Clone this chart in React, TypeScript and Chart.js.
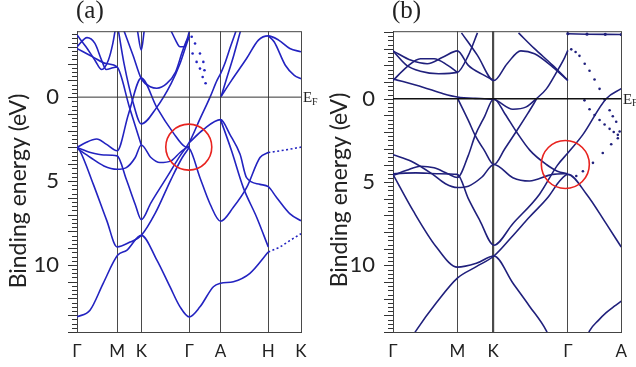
import React, { useEffect, useRef } from 'react';
import { Chart, registerables } from 'chart.js';
Chart.register(...registerables);

type P = [number, number];

// ---------- k-path (fractional distance) and labels ----------
const kPathA = [0, 0.179, 0.287, 0.501, 0.641, 0.854, 1.0];
const kLabelsA = ['Γ', 'M', 'K', 'Γ', 'A', 'H', 'K'];
const kPathB = [0, 0.282, 0.439, 0.766, 1.0];
const kLabelsB = ['Γ', 'M', 'K', 'Γ', 'A'];
const energyTicks = [0, 5, 10];
const energyRangeA = [-3.93, 14.0];
const energyRangeB = [-4.05, 14.0];

// ---------- panel (a) bands: [k, binding energy eV] ----------
const a1: P[] = [[0, 13.1], [0.058, 12.7], [0.117, 11.1], [0.181, 9.43], [0.222, 9.13], [0.287, 8.24], [0.356, 9.7], [0.415, 11.3], [0.46, 12.5], [0.501, 13.1], [0.549, 12.5], [0.609, 11.3], [0.641, 11.1], [0.698, 11.0], [0.772, 10.5], [0.854, 9.23]];
const a1dot: P[] = [[0.854, 9.23], [0.906, 8.93], [0.95, 8.55], [1.0, 8.14]];
const a2: P[] = [[0, 3.0], [0.013, 3.2], [0.073, 5.2], [0.133, 7.36], [0.179, 8.93], [0.237, 8.64], [0.287, 8.24], [0.35, 6.9], [0.42, 4.9], [0.47, 3.6], [0.501, 3.0]];
const a3: P[] = [[0, 3.0], [0.06, 3.3], [0.12, 3.45], [0.179, 3.5], [0.22, 4.9], [0.26, 6.4], [0.287, 7.3], [0.33, 6.3], [0.40, 4.8], [0.46, 3.5], [0.501, 2.7], [0.549, 1.3], [0.594, 0], [0.625, -1.0], [0.641, -1.4], [0.66, -2.0], [0.685, -3.0], [0.71, -3.95]];
const a4: P[] = [[0, 3.0], [0.04, 2.7], [0.088, 2.5], [0.13, 2.8], [0.179, 3.2], [0.23, 1.0], [0.287, -1.13], [0.356, 0.61], [0.43, 2.13], [0.482, 2.95], [0.501, 3.05], [0.549, 4.8], [0.594, 6.37], [0.641, 7.4], [0.698, 6.57], [0.757, 5.4], [0.817, 3.6], [0.854, 3.3]];
const a4dot: P[] = [[0.854, 3.3], [0.93, 3.15], [1.0, 2.98]];
const a5: P[] = [[0, 3.05], [0.06, 3.6], [0.12, 4.1], [0.179, 4.3], [0.22, 4.2], [0.26, 3.6], [0.287, 2.85], [0.33, 3.6], [0.37, 3.9], [0.42, 3.8], [0.46, 3.3], [0.501, 2.9]];
const a6: P[] = [[0, -2.9], [0.07, -2.4], [0.13, -2.0], [0.179, -1.8], [0.234, 0.6], [0.287, 2.85]];
const a7: P[] = [[0.21, -3.95], [0.25, -2.5], [0.287, -1.1], [0.33, -0.6], [0.356, -0.53], [0.40, -0.8], [0.44, -1.5], [0.47, -2.7], [0.49, -3.4], [0.501, -3.6]];
const a8: P[] = [[0.185, -3.95], [0.21, -2.0], [0.25, 0.3], [0.287, 1.6], [0.356, 0.61], [0.42, -0.8], [0.46, -2.0], [0.49, -3.2], [0.501, -3.6]];
const a9: P[] = [[0.42, -3.95], [0.44, -3.4], [0.46, -3.0], [0.48, -3.0], [0.495, -3.6], [0.501, -3.9]];
const a10: P[] = [[0, -3.0], [0.045, -3.55], [0.08, -3.2], [0.11, -2.2], [0.13, -1.65], [0.16, -1.75], [0.179, -1.8]];
const a11: P[] = [[0, -3.7], [0.04, -3.0], [0.08, -2.2], [0.11, -1.65], [0.14, -2.2], [0.16, -3.2], [0.17, -3.95]];
const a12: P[] = [[0.501, 2.72], [0.564, 1.93], [0.641, 1.34], [0.683, 2.23], [0.728, 3.41], [0.757, 4.8], [0.817, 5.2], [0.854, 5.34], [0.891, 5.98], [0.951, 6.96], [1.0, 7.37]];
const a13: P[] = [[0.641, 1.34], [0.69, 3.2], [0.742, 5.38], [0.802, 7.16], [0.854, 8.93]];
const a14: P[] = [[0.641, 0], [0.69, -1.0], [0.757, -2.3], [0.81, -3.4], [0.854, -3.65], [0.9, -3.4], [0.95, -2.9], [1.0, -2.7]];
const a15: P[] = [[0.854, -3.65], [0.88, -3.3], [0.93, -1.9], [0.97, -1.3], [1.0, -1.1]];
const a16: P[] = [[0.645, -0.1], [0.67, -1.2], [0.70, -2.5], [0.73, -3.95]];
const a17: P[] = [[0.27, -3.95], [0.287, -2.8], [0.30, -3.95]];
const aDots1: P[] = [[0.512, -3.6], [0.527, -3.2], [0.549, -2.6], [0.564, -2.1], [0.569, -1.6], [0.574, -0.83]];
const aDots2: P[] = [[0.516, -2.6], [0.534, -2.1], [0.549, -1.7], [0.561, -1.2]];

// ---------- panel (b) bands ----------
const b1: P[] = [[0.07, 14.6], [0.102, 13.9], [0.19, 12.25], [0.282, 10.77], [0.365, 10.08], [0.442, 9.44], [0.52, 8.3], [0.598, 7.1], [0.68, 5.9], [0.73, 4.94], [0.766, 4.54], [0.848, 5.73], [0.934, 7.5], [1.0, 8.9]];
const b2: P[] = [[0, 4.54], [0.088, 6.72], [0.19, 8.9], [0.282, 10.11], [0.365, 9.88], [0.442, 9.44], [0.525, 11.06], [0.598, 12.45], [0.672, 13.93], [0.69, 14.5]];
const b3: P[] = [[0, 3.36], [0.08, 3.75], [0.17, 4.5], [0.23, 5.1], [0.282, 5.33], [0.33, 5.25], [0.39, 4.7], [0.442, 3.95], [0.525, 4.74], [0.598, 4.94], [0.70, 4.54], [0.766, 4.5]];
const b4: P[] = [[0, 4.5], [0.1, 4.45], [0.2, 4.5], [0.282, 4.54], [0.33, 6.0], [0.38, 7.3], [0.442, 8.79], [0.525, 7.5], [0.642, 5.73], [0.72, 4.0], [0.766, 3.26], [0.831, 2.17], [0.934, 0], [1.0, -0.6]];
const b5: P[] = [[0, 4.6], [0.06, 4.3], [0.12, 4.05], [0.18, 4.15], [0.24, 4.5], [0.282, 4.73], [0.33, 3.4], [0.36, 2.2], [0.40, 1.1], [0.442, 0], [0.49, 0.9], [0.54, 1.97], [0.60, 3.1], [0.672, 3.95], [0.72, 4.35], [0.766, 4.5]];
const b6: P[] = [[0, -1.19], [0.131, -0.69], [0.22, -0.3], [0.282, -0.1], [0.36, -0.02], [0.442, 0.05], [0.525, 0.63], [0.584, 0.49], [0.628, 0], [0.672, -0.59], [0.716, -1.58], [0.752, -2.47], [0.766, -2.9]];
const b7: P[] = [[0.282, -0.05], [0.33, 1.3], [0.36, 2.2], [0.40, 3.1], [0.442, 3.95], [0.49, 3.0], [0.54, 1.97], [0.59, 0.9], [0.63, 0]];
const b8: P[] = [[0, -2.87], [0.06, -2.0], [0.12, -1.65], [0.2, -1.5], [0.282, -1.58], [0.33, -2.6], [0.37, -3.95]];
const b9: P[] = [[0, -1.09], [0.06, -1.9], [0.12, -2.4], [0.18, -2.4], [0.24, -2.0], [0.282, -1.58]];
const b10: P[] = [[0, -2.87], [0.08, -2.3], [0.15, -2.1], [0.22, -2.5], [0.282, -2.87], [0.33, -2.0], [0.40, -1.4], [0.442, -1.09]];
const b11: P[] = [[0.30, -3.95], [0.37, -2.6], [0.442, -1.09], [0.50, -2.1], [0.56, -2.87], [0.62, -2.7], [0.70, -1.9], [0.766, -1.09]];
const b12: P[] = [[0.55, -3.95], [0.62, -3.0], [0.70, -2.0], [0.766, -1.09]];
const b13: P[] = [[0.85, 14.3], [0.861, 13.93], [0.9, 13.3], [0.934, 12.84], [0.97, 12.45], [1.0, 12.15]];
const bTop: P[] = [[0.766, -3.9], [0.85, -3.87], [0.93, -3.86], [1.0, -3.85]];
const bDots1: P[] = [[0.781, -2.96], [0.80, -2.8], [0.817, -2.57], [0.84, -2.1], [0.861, -1.68], [0.883, -1.15], [0.905, -0.59], [0.927, 0.05], [0.949, 0.69], [0.963, 1.05], [0.978, 1.38], [0.993, 1.97]];
const bDots2: P[] = [[0.839, 0.1], [0.861, 0.63], [0.883, 0.98], [0.905, 1.28], [0.927, 1.55], [0.949, 1.81], [0.967, 2.0], [0.985, 2.17]];
const bDots3: P[] = [[0.803, 4.64], [0.832, 4.35], [0.876, 3.85], [0.919, 3.26], [0.956, 2.73], [0.985, 2.37]];

type Panel = {
  solid: P[][]; dashed: P[][]; dots: P[][]; dotLines: P[][];
  kPath: number[]; kLabels: string[]; range: number[];
  color: string; lw: number;
  axisW: number; padR: number; padT: number; axisH: number;
  circle: P; circleR: number; label: string; titleX: number; titleY: number;
  efX: number; zeroColor: string; zeroW: number; boldIndex: number;
};

const panelA: Panel = {
  solid: [a1, a2, a3, a4, a5, a6, a7, a8, a9, a10, a11, a12, a13, a14, a15, a16, a17],
  dashed: [a1dot, a4dot], dots: [aDots1, aDots2], dotLines: [],
  kPath: kPathA, kLabels: kLabelsA, range: energyRangeA,
  color: '#2323c0', lw: 1.6,
  axisW: 77, padR: 17, padT: 29, axisH: 35,
  circle: [0.499, 2.98], circleR: 23, label: '(a)', titleX: 19, titleY: 191,
  efX: 303, zeroColor: '#333', zeroW: 1, boldIndex: -1,
};

const panelB: Panel = {
  solid: [b1, b2, b3, b4, b5, b6, b7, b8, b9, b10, b11, b12, b13],
  dashed: [], dots: [bDots1, bDots2, bDots3], dotLines: [bTop],
  kPath: kPathB, kLabels: kLabelsB, range: energyRangeB,
  color: '#20207c', lw: 1.6,
  axisW: 75, padR: 14, padT: 28, axisH: 35,
  circle: [0.755, 3.95], circleR: 24, label: '(b)', titleX: 22, titleY: 190,
  efX: 305, zeroColor: '#111', zeroW: 1.5, boldIndex: 2,
};

const sans = 'Lato, "Open Sans", sans-serif';
const serif = '"Liberation Serif", "DejaVu Serif", serif';

const decor = {
  id: 'decor',
  afterDraw(chart: any, _args: any, o: any) {
    const { ctx, chartArea: ca, scales } = chart;
    const x = scales.x, y = scales.y;
    ctx.save();
    // zero (Fermi) line
    const y0 = y.getPixelForValue(0);
    ctx.strokeStyle = o.zeroColor; ctx.lineWidth = o.zeroW;
    ctx.beginPath(); ctx.moveTo(ca.left, y0); ctx.lineTo(ca.right, y0); ctx.stroke();
    // frame top
    ctx.strokeStyle = '#444'; ctx.lineWidth = 1;
    ctx.beginPath(); ctx.moveTo(ca.left, ca.top + 0.5); ctx.lineTo(ca.right, ca.top + 0.5); ctx.stroke();
    // minor ticks every 0.25 eV
    ctx.strokeStyle = '#333'; ctx.lineWidth = 1;
    for (let v = Math.ceil(y.min * 4) / 4; v <= y.max + 1e-6; v += 0.25) {
      const py = Math.round(y.getPixelForValue(v)) + 0.5;
      const isInt = Math.abs(v - Math.round(v)) < 1e-6;
      const len = isInt ? 9 : 5;
      ctx.beginPath(); ctx.moveTo(ca.left - len, py); ctx.lineTo(ca.left, py); ctx.stroke();
    }
    // red circle
    ctx.strokeStyle = '#e8231f'; ctx.lineWidth = 1.6;
    ctx.beginPath();
    ctx.arc(x.getPixelForValue(o.circle[0]), y.getPixelForValue(o.circle[1]), o.circleR, 0, Math.PI * 2);
    ctx.stroke();
    // E_F label
    ctx.fillStyle = '#222';
    ctx.textBaseline = 'middle'; ctx.textAlign = 'left';
    ctx.font = `15px ${serif}`;
    ctx.fillText('E', o.efX, y0 + 1);
    ctx.font = `10px ${serif}`;
    ctx.fillText('F', o.efX + 9, y0 + 5);
    // panel label
    ctx.font = `25px ${serif}`;
    ctx.textBaseline = 'top';
    ctx.fillText(o.label, ca.left - 1, -1);
    // y title
    ctx.translate(o.titleX, o.titleY);
    ctx.rotate(-Math.PI / 2);
    ctx.textAlign = 'center'; ctx.textBaseline = 'middle';
    ctx.font = `23px ${sans}`;
    ctx.fillText('Binding energy (eV)', 0, 0);
    ctx.restore();
  },
};

function makeConfig(p: Panel): any {
  const mk = (arr: P[]) => arr.map(([k, e]) => ({ x: k, y: e }));
  const datasets: any[] = [];
  p.solid.forEach((b) => datasets.push({ data: mk(b), borderColor: p.color, borderWidth: p.lw, pointRadius: 0, cubicInterpolationMode: 'monotone', fill: false }));
  p.dashed.forEach((b) => datasets.push({ data: mk(b), borderColor: p.color, borderWidth: p.lw, borderDash: [2, 2.5], pointRadius: 0, cubicInterpolationMode: 'monotone', fill: false }));
  p.dotLines.forEach((b) => datasets.push({ data: mk(b), borderColor: p.color, borderWidth: 1.6, pointRadius: 1.6, pointBackgroundColor: p.color, pointBorderWidth: 0, fill: false }));
  p.dots.forEach((b) => datasets.push({ data: mk(b), showLine: false, pointRadius: 1.3, pointBackgroundColor: p.color, pointBorderWidth: 0, borderColor: p.color }));
  return {
    type: 'line',
    data: { datasets },
    plugins: [decor],
    options: {
      responsive: false, animation: false, devicePixelRatio: 1,
      layout: { padding: { left: 0, right: p.padR, top: p.padT, bottom: 0 } },
      plugins: {
        legend: { display: false }, tooltip: { enabled: false }, title: { display: false },
        decor: p,
      },
      scales: {
        x: {
          type: 'linear', min: 0, max: 1,
          afterBuildTicks: (s: any) => { s.ticks = p.kPath.map((v) => ({ value: v })); },
          afterFit: (s: any) => { s.height = p.axisH; },
          grid: {
            color: '#4a4a4a', drawTicks: false,
            lineWidth: (c: any) => (c.index === p.boldIndex ? 2.2 : 1),
          },
          border: { display: true, color: '#444', width: 1 },
          ticks: {
            autoSkip: false, maxRotation: 0, padding: 9, color: '#222',
            font: { family: sans, size: 17 },
            callback: (_v: any, i: number) => p.kLabels[i],
          },
        },
        y: {
          type: 'linear', reverse: true, min: p.range[0], max: p.range[1],
          afterBuildTicks: (s: any) => { s.ticks = energyTicks.map((v) => ({ value: v })); },
          afterFit: (s: any) => { s.width = p.axisW; },
          grid: { display: false, drawTicks: false },
          border: { display: true, color: '#444', width: 1 },
          ticks: {
            padding: 18, color: '#222',
            font: { family: sans, size: 22 },
            callback: (v: any) => String(v),
          },
        },
      },
    },
  };
}

export default function App() {
  const refA = useRef<HTMLCanvasElement>(null);
  const refB = useRef<HTMLCanvasElement>(null);
  useEffect(() => {
    const ca = new Chart(refA.current as HTMLCanvasElement, makeConfig(panelA));
    const cb = new Chart(refB.current as HTMLCanvasElement, makeConfig(panelB));
    return () => { ca.destroy(); cb.destroy(); };
  }, []);
  return (
    <div style={{ position: 'absolute', left: 0, top: 0, width: 636, height: 367, background: '#fff', overflow: 'hidden' }}>
      <canvas ref={refA} width={318} height={367} style={{ position: 'absolute', left: 0, top: 0 }} />
      <canvas ref={refB} width={318} height={367} style={{ position: 'absolute', left: 318, top: 0 }} />
    </div>
  );
}
